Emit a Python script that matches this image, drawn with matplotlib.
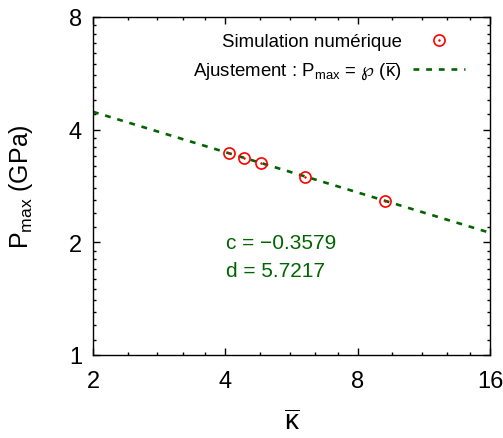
import numpy as np
import matplotlib
matplotlib.use("Agg")
import matplotlib.pyplot as plt

plt.rcParams.update({"font.family":["Liberation Sans","DejaVu Sans"],"font.size":17,
"mathtext.fontset":"custom","mathtext.rm":"Liberation Sans","mathtext.it":"Liberation Sans:italic",
"mathtext.bf":"Liberation Sans:bold","mathtext.sf":"DejaVu Sans","axes.linewidth":1.0,
"xtick.direction":"in","ytick.direction":"in","xtick.top":True,"ytick.right":True})

# numerical simulation points
kappa = [4.08, 4.41, 4.81, 6.08, 9.24]
pmax = [3.46, 3.36, 3.26, 2.99, 2.58]
# power-law fit  P = d * kappa^c
c_fit, d_fit = -0.3579, 5.7217
kfit = np.array([2.0, 16.0])
pfit = d_fit*kfit**c_fit

xticks = [2, 4, 8, 16]
yticks = [1, 2, 4, 8]
xminor = [a*(1+0.2*k) for a in (2, 4, 8) for k in range(1, 5)]
yminor = [a*(1+0.1*k) for a in (1, 2, 4) for k in range(1, 10)]

green = "#006400"
fig = plt.figure(figsize=(5.03,4.39), dpi=100)
ax = fig.add_axes([93/503, 83/439, 397/503, 338/439])

ax.plot(kfit, pfit, color=green, lw=1.9, ls=(0,(2.2,2.6)))
hc, = ax.plot(kappa, pmax, ls="none", marker="o", ms=8, mfc="none", mec="red", mew=1.2)
hd, = ax.plot(kappa, pmax, ls="none", marker="o", ms=1.2, mfc="red", mec="red", mew=0.5)
hf, = ax.plot([], [], color=green, lw=1.9, ls=(0,(2.2,2.6)))

ax.set_xscale("log", base=2); ax.set_yscale("log", base=2)
ax.set_xlim(2, 16); ax.set_ylim(1, 8)
ax.set_xticks(xticks); ax.set_xticklabels([str(v) for v in xticks])
ax.set_yticks(yticks); ax.set_yticklabels([str(v) for v in yticks])
ax.set_xticks(xminor, minor=True); ax.set_yticks(yminor, minor=True)
ax.xaxis.set_minor_formatter(matplotlib.ticker.NullFormatter())
ax.yaxis.set_minor_formatter(matplotlib.ticker.NullFormatter())
ax.tick_params(which="major", length=5, width=1, pad=8)
ax.tick_params(axis="x", which="major", pad=11)
ax.tick_params(which="minor", length=2.5, width=1)

ax.set_xlabel(r"$\overline{\mathrm{\kappa}}$", fontsize=20, labelpad=12)
ax.set_ylabel(r"P$_{\mathrm{max}}$ (GPa)", fontsize=18, labelpad=24)

ax.legend([(hc, hd), hf],
          ["Simulation numérique", r"Ajustement : P$_{\mathrm{max}}$ = $\mathsf{\wp}$ $\mathrm{(\overline{\kappa})}$"],
          frameon=False, markerfirst=False, fontsize=13.4, loc="upper right",
          bbox_to_anchor=((465-93)/397, (356-34)/338), borderpad=0, borderaxespad=0,
          handlelength=2.8, handletextpad=0.6, labelspacing=0.5)

ax.text(0.335, 0.334, "c = \u22120.3579", transform=ax.transAxes, color=green, fontsize=15, va="center")
ax.text(0.335, 0.251, "d = 5.7217", transform=ax.transAxes, color=green, fontsize=15, va="center")

fig.savefig("out.png", dpi=100)
